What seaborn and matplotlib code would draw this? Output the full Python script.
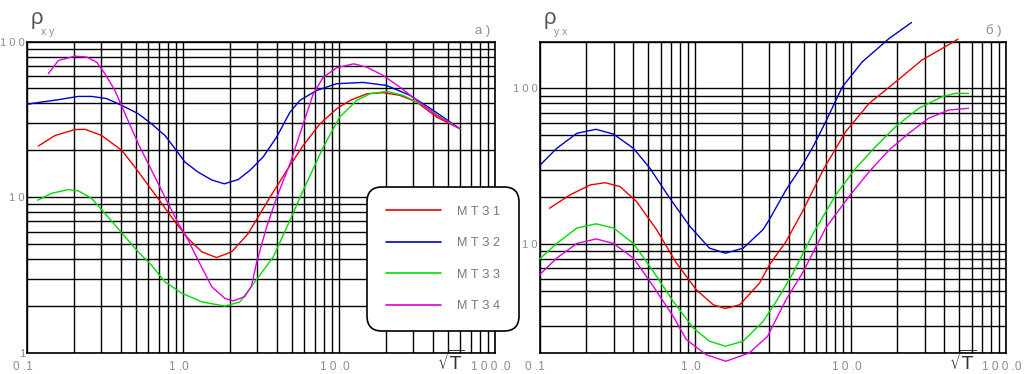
import matplotlib
matplotlib.use("Agg")
import matplotlib.pyplot as plt
from matplotlib.lines import Line2D
from matplotlib.transforms import ScaledTranslation
from matplotlib.ticker import LogLocator, NullFormatter, FixedLocator, FixedFormatter
import pandas as pd
import seaborn as sns

# ---------------- data (x = sqrt(T), y = apparent resistivity) ----------------
series_labels = ["М Т З 1", "М Т З 2", "М Т З 3", "М Т З 4"]
series_colors = ["#ee0000", "#0000cc", "#00dd00", "#e000e0"]

# panel а) rho_xy
x_xy_1 = [0.118, 0.151, 0.203, 0.236, 0.301, 0.405, 0.492, 0.600, 0.730, 0.889, 1.08, 1.32, 1.64, 2.05, 2.62,
          3.61, 4.85, 5.90, 7.55, 9.66, 11.8, 15.1, 19.2, 24.6, 31.5, 42.3, 59.7]
y_xy_1 = [21.3, 24.9, 27.2, 27.3, 24.9, 20.0, 15.6, 11.9, 9.12, 6.95, 5.43, 4.46, 4.10, 4.46, 5.85,
          10.0, 16.0, 21.5, 29.6, 37.0, 41.9, 46.2, 46.9, 45.1, 40.8, 32.7, 27.5]

x_xy_2 = [0.100, 0.117, 0.159, 0.213, 0.260, 0.324, 0.405, 0.516, 0.629, 0.767, 0.889, 1.03, 1.25, 1.53, 1.84, 2.26,
          2.69, 3.27, 3.99, 4.85, 5.62, 7.19, 9.66, 14.3, 20.2, 28.5, 40.3, 59.7]
y_xy_2 = [39.5, 40.5, 42.3, 44.4, 44.4, 43.0, 38.9, 34.4, 29.6, 24.9, 20.5, 16.8, 14.5, 12.9, 12.2, 13.0,
          14.9, 18.2, 24.4, 35.2, 41.9, 48.5, 53.6, 54.6, 52.2, 45.1, 36.1, 27.5]

x_xy_3 = [0.117, 0.144, 0.184, 0.213, 0.260, 0.316, 0.405, 0.516, 0.629, 0.767, 0.982, 1.32, 1.86, 2.32, 2.69,
          3.79, 4.85, 5.90, 7.93, 10.1, 13.0, 15.8, 20.2, 25.8, 34.7, 46.7, 59.7]
y_xy_3 = [9.57, 10.6, 11.2, 11.0, 9.82, 7.87, 5.90, 4.46, 3.66, 2.86, 2.42, 2.13, 2.00, 2.13, 2.60,
          4.14, 7.13, 11.1, 21.0, 32.7, 41.9, 46.2, 47.8, 45.1, 38.9, 31.9, 27.5]

x_xy_4 = [0.137, 0.159, 0.203, 0.242, 0.280, 0.316, 0.366, 0.425, 0.516, 0.629, 0.767, 0.933, 1.08, 1.25, 1.53,
          1.86, 2.10, 2.49, 2.75, 2.96, 3.44, 3.99, 4.85, 5.90, 6.84, 7.93, 9.66, 12.4, 15.1, 19.2, 24.6, 31.5,
          42.3, 59.7]
y_xy_4 = [62.1, 75.5, 80.5, 79.4, 73.6, 62.1, 48.5, 34.4, 22.1, 14.9, 10.0, 6.78, 5.30, 3.94, 2.66,
          2.24, 2.16, 2.30, 2.69, 3.80, 6.46, 10.0, 16.4, 29.6, 46.2, 59.0, 67.8, 71.9, 68.4, 60.5, 50.9, 41.9,
          33.6, 27.5]

# panel б) rho_yx
x_yx_1 = [0.116, 0.157, 0.212, 0.264, 0.330, 0.422, 0.566, 0.760, 1.02, 1.31, 1.57, 1.94, 2.60, 3.01, 3.85,
          4.91, 6.76, 9.31, 13.2, 19.5, 28.8, 38.7, 49.1]
y_yx_1 = [17.0, 20.7, 24.0, 24.8, 23.4, 18.7, 12.4, 7.55, 5.09, 4.08, 3.86, 4.08, 5.62, 7.36, 10.4,
          16.2, 30.7, 52.7, 80.2, 110, 152, 180, 207]

x_yx_2 = [0.100, 0.129, 0.174, 0.231, 0.299, 0.402, 0.513, 0.689, 0.927, 1.24, 1.57, 2.04, 2.74, 3.01, 3.85,
          4.91, 5.83, 6.93, 8.85, 11.9, 17.7, 24.7]
y_yx_2 = [31.9, 41.2, 51.5, 54.6, 50.9, 41.2, 30.7, 19.7, 13.0, 9.42, 8.75, 9.42, 12.4, 14.4, 22.3,
          32.2, 43.4, 61.1, 102, 148, 209, 265]

x_yx_3 = [0.100, 0.129, 0.174, 0.231, 0.299, 0.402, 0.540, 0.724, 0.973, 1.24, 1.57, 2.04, 2.74, 3.33, 4.24,
          5.69, 8.04, 10.8, 14.5, 19.5, 27.5, 38.7, 47.2, 57.5]
y_yx_3 = [8.02, 10.1, 12.7, 13.5, 12.7, 10.1, 6.67, 4.29, 2.90, 2.38, 2.21, 2.38, 3.19, 4.29, 6.43,
          11.5, 20.7, 30.7, 42.3, 56.8, 74.5, 88.3, 92.9, 92.9]

x_yx_4 = [0.100, 0.129, 0.174, 0.231, 0.299, 0.402, 0.540, 0.724, 0.879, 1.18, 1.58, 2.23, 2.93, 3.85, 4.91,
          6.93, 9.77, 13.2, 17.7, 23.7, 31.8, 42.8, 57.5]
y_yx_4 = [6.35, 8.13, 10.1, 10.8, 10.1, 8.13, 5.35, 3.44, 2.44, 1.95, 1.77, 2.00, 2.56, 4.40, 6.52,
          12.7, 20.2, 29.2, 40.2, 51.5, 64.3, 72.6, 74.5]

# tick labels
x_tick_values = [0.1, 1.0, 10.0, 100.0]
x_tick_labels = ["0 .1", "1 .0", "1 0 .0", "1 0 0 .0"]
y_ticks_xy = [1, 10, 100]
y_labels_xy = ["1", "1 0", "1 0 0"]
y_ticks_yx = [10, 100]
y_labels_yx = ["1 0", "1 0 0"]

# ---------------- style ----------------
sns.set_style("white")
FONT = ["Liberation Sans", "DejaVu Sans"]
plt.rcParams["font.family"] = FONT
LABEL_COLOR = "#8c8c8c"

W, H = 1024, 374
fig = plt.figure(figsize=(W / 100, H / 100), dpi=100)
ax1 = fig.add_axes([27 / W, 21 / H, 468 / W, 311.5 / H])
ax2 = fig.add_axes([539.5 / W, 21 / H, 466.5 / W, 311.5 / H])


def long_frame(xs_list, ys_list):
    rows = []
    for lab, xs, ys in zip(series_labels, xs_list, ys_list):
        for i, (x, y) in enumerate(zip(xs, ys)):
            rows.append({"sqrtT": x, "rho": y, "series": lab, "order": i})
    return pd.DataFrame(rows)


df_xy = long_frame([x_xy_1, x_xy_2, x_xy_3, x_xy_4], [y_xy_1, y_xy_2, y_xy_3, y_xy_4])
df_yx = long_frame([x_yx_1, x_yx_2, x_yx_3, x_yx_4], [y_yx_1, y_yx_2, y_yx_3, y_yx_4])

palette = dict(zip(series_labels, series_colors))
shift = ScaledTranslation(-3 / 72, 0, fig.dpi_scale_trans)

for ax, df, ylim, yt, yl in [(ax1, df_xy, (1, 100), y_ticks_xy, y_labels_xy),
                             (ax2, df_yx, (2, 200), y_ticks_yx, y_labels_yx)]:
    ax.set_xscale("log")
    ax.set_yscale("log")
    sns.lineplot(data=df, x="sqrtT", y="rho", hue="series", hue_order=series_labels,
                 palette=palette, estimator=None, sort=False, lw=1.0, ax=ax, legend=False)
    for ln in ax.lines:
        ln.set_clip_on(False)
        ln.set_zorder(3)
        ln.set_solid_joinstyle("round")
    ax.set_xlim(0.1, 100)
    ax.set_ylim(*ylim)
    ax.xaxis.set_major_locator(FixedLocator(x_tick_values))
    ax.xaxis.set_major_formatter(FixedFormatter(x_tick_labels))
    ax.yaxis.set_major_locator(FixedLocator(yt))
    ax.yaxis.set_major_formatter(FixedFormatter(yl))
    ax.xaxis.set_minor_locator(LogLocator(base=10, subs=range(2, 10)))
    ax.yaxis.set_minor_locator(LogLocator(base=10, subs=range(2, 10)))
    ax.xaxis.set_minor_formatter(NullFormatter())
    ax.yaxis.set_minor_formatter(NullFormatter())
    ax.grid(True, which="both", color="black", lw=1.0)
    ax.tick_params(which="both", length=0, labelcolor=LABEL_COLOR)
    ax.tick_params(axis="x", pad=6, labelsize=8.5)
    ax.tick_params(axis="y", pad=1.5, labelsize=8)
    ax.set_xlabel("")
    ax.set_ylabel("")
    for sp in ax.spines.values():
        sp.set_visible(True)
        sp.set_color("black")
        sp.set_linewidth(1.2)
    for lab in ax.get_xticklabels():
        lab.set_transform(lab.get_transform() + shift)

# legend (panel а)
handles = [Line2D([0], [0], color=c, lw=1.2) for c in series_colors]
leg = ax1.legend(handles, series_labels, loc="upper left",
                 bbox_to_anchor=(367 / W, 1 - 187 / H), bbox_transform=fig.transFigure,
                 borderaxespad=0, fontsize=9, handlelength=4.4, handletextpad=1.3,
                 labelspacing=1.55, borderpad=1.5, frameon=True, framealpha=1,
                 fancybox=True)
fr = leg.get_frame()
fr.set_boxstyle("round,pad=0,rounding_size=1.2")
fr.set_edgecolor("black")
fr.set_linewidth(1.2)
fr.set_facecolor("white")
for t in leg.get_texts():
    t.set_color("#777777")
leg.set_zorder(10)

# panel titles
def ptxt(x, y, s, **kw):
    fig.text(x / W, 1 - y / H, s, **kw)

ptxt(31, 24, "ρ", fontsize=16, color="#555555", va="baseline")
ptxt(41, 35, "x y", fontsize=7.5, color=LABEL_COLOR, va="baseline")
ptxt(544, 24, "ρ", fontsize=16, color="#555555", va="baseline")
ptxt(554, 35, "y x", fontsize=7.5, color=LABEL_COLOR, va="baseline")
ptxt(475, 34, "а )", fontsize=9.5, color=LABEL_COLOR, va="baseline")
ptxt(986, 34, "б )", fontsize=9.5, color=LABEL_COLOR, va="baseline")

# sqrt(T) axis names
ptxt(451, 362, r"$\sqrt{\mathrm{T}}$", fontsize=13, color="#333333", ha="center", va="center")
ptxt(963, 362, r"$\sqrt{\mathrm{T}}$", fontsize=13, color="#333333", ha="center", va="center")

fig.savefig("out.png", dpi=100)
